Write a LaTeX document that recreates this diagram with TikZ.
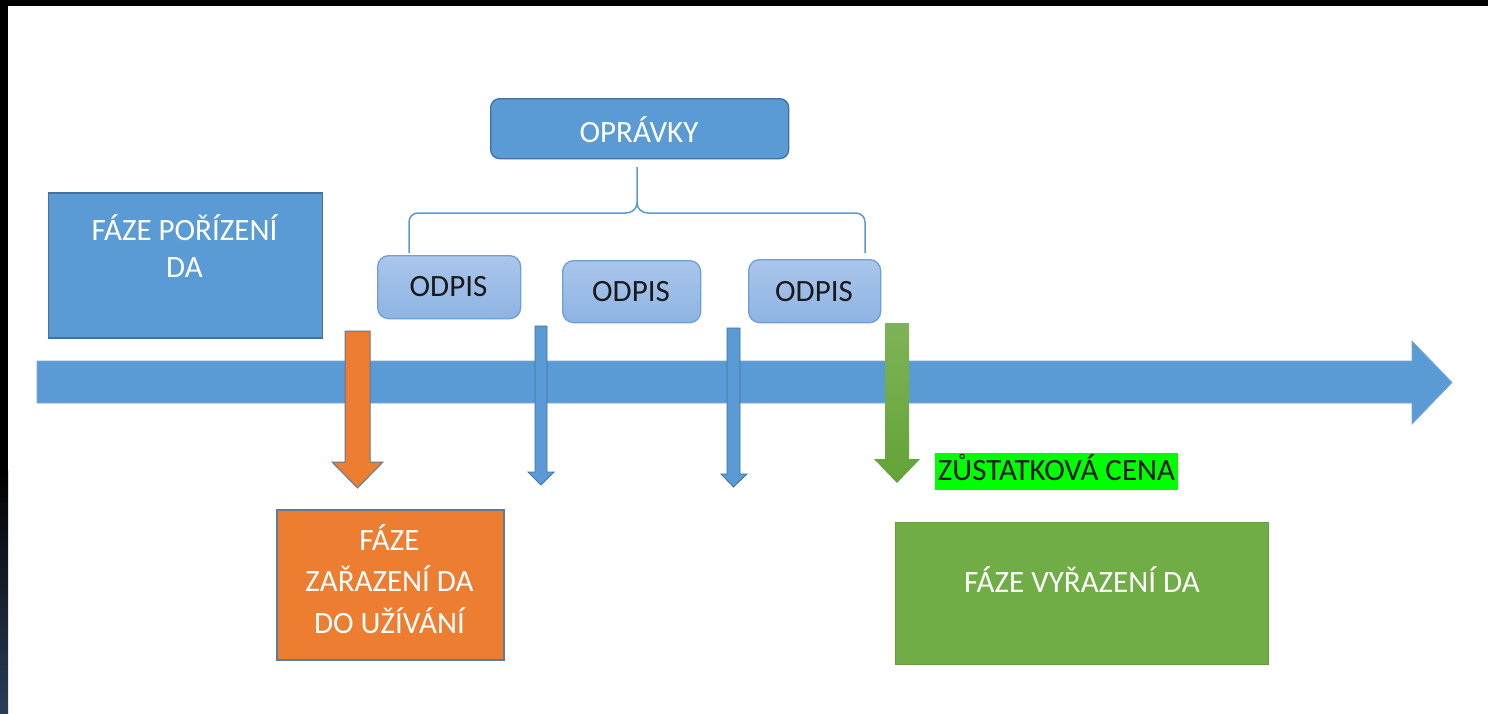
\documentclass[tikz,border=0pt]{standalone}
\usepackage{fontspec}
\setmainfont{Carlito}
\definecolor{mblue}{HTML}{5B9BD5}
\definecolor{dblue}{HTML}{41719C}
\definecolor{morange}{HTML}{ED7D31}
\definecolor{oedge}{HTML}{5D7B9A}
\definecolor{mgreen}{HTML}{70AD47}
\definecolor{lbtop}{HTML}{AAC6EB}
\definecolor{lbbot}{HTML}{8EB4E3}
\definecolor{lbedge}{HTML}{6E9FD6}
\definecolor{navy}{HTML}{2B3C57}
\definecolor{gtop}{HTML}{7EB457}
\definecolor{gbot}{HTML}{63A336}
\definecolor{lime}{HTML}{00FF00}
\definecolor{tledge}{HTML}{79A9DA}
\begin{document}
\begin{tikzpicture}[x=1pt,y=-1pt,
  boxbase/.style={rectangle, inner sep=0pt, anchor=north west},
  bluebox/.style={boxbase, fill=mblue, draw=dblue, line width=1.8pt},
  orangebox/.style={boxbase, fill=morange, draw=oedge, line width=1.8pt},
  greenbox/.style={boxbase, fill=mgreen, draw=mgreen!90!black, line width=0.6pt},
  oprbox/.style={boxbase, fill=mblue, draw=dblue, line width=1.3pt, rounded corners=9pt},
  odpisbox/.style={boxbase, top color=lbtop, bottom color=lbbot, draw=lbedge, line width=1.3pt, rounded corners=11pt},
  limebox/.style={boxbase, fill=lime},
  wtext/.style={text=white, font=\fontsize{31}{37}\selectfont, align=center, anchor=base, inner sep=0pt},
  ktext/.style={text=black!90, font=\fontsize{31}{37}\selectfont, align=center, anchor=base, inner sep=0pt},
  bracket/.style={draw=mblue, line width=1.5pt},
  bluearrow/.style={fill=mblue, draw=dblue, line width=0.8pt, line join=miter},
  orangearrow/.style={fill=morange, draw=oedge, line width=1pt, line join=miter},
  greenarrow/.style={top color=gtop, bottom color=gbot, draw=none},
  timeline/.style={fill=mblue, draw=tledge, line width=0.8pt, line join=miter}
]
\useasboundingbox (0,0) rectangle (1488,713);
\fill[white] (0,0) rectangle (1488,713);
% dark frame
\fill[black] (0,0) rectangle (1488,6);
\fill[black] (0,0) rectangle (8,713);
\shade[top color=black, bottom color=navy] (0,470) rectangle (8,713);

% boxes
\node[bluebox, minimum width=274pt, minimum height=145pt] (pori) at (47.5,192) {};
\node[wtext] (poritxt) at (184.5,277) {FÁZE POŘÍZENÍ\\DA};

\node[oprbox, minimum width=298pt, minimum height=60pt] (oprav) at (490,98) {};
\node[wtext] (opravtxt) at (639,142) {OPRÁVKY};

\node[odpisbox, minimum width=143pt, minimum height=63pt] (od1) at (377,255) {};
\node[odpisbox, minimum width=138pt, minimum height=62pt] (od2) at (562,260) {};
\node[odpisbox, minimum width=132pt, minimum height=63pt] (od3) at (748,259) {};
\node[ktext] (od1txt) at (448.5,296) {ODPIS};
\node[ktext] (od2txt) at (631,301) {ODPIS};
\node[ktext] (od3txt) at (814,301) {ODPIS};

% bracket from OPRAVKY to ODPIS
\coordinate (bl) at (409,253);
\coordinate (br) at (865,253);
\coordinate (bt) at (637,167);
\draw[bracket] (bl) -- (409,222) to[out=90,in=180] (418,213) -- (626,213) to[out=0,in=-90] (637,203) -- (bt);
\draw[bracket] (br) -- (865,222) to[out=90,in=0] (856,213) -- (648,213) to[out=180,in=-90] (637,203);

% timeline
\draw[timeline] (37,361) -- (1412,361) -- (1412,341) -- (1452,382.5) -- (1412,424) -- (1412,403) -- (37,403) -- cycle;

% down arrows
\draw[orangearrow] (345,331) -- (370,331) -- (370,462) -- (383,462) -- (357.5,488) -- (332,462) -- (345,462) -- cycle;
\draw[bluearrow] (535,326) -- (547,326) -- (547,472) -- (554,472) -- (541,485) -- (528,472) -- (535,472) -- cycle;
\draw[bluearrow] (727,328) -- (740,328) -- (740,474) -- (747,474) -- (733.5,487) -- (721,474) -- (727,474) -- cycle;
\shade[greenarrow] (885,323) -- (909,323) -- (909,459) -- (920,459) -- (897,483) -- (874,459) -- (885,459) -- cycle;

% residual value label
\node[limebox, minimum width=243pt, minimum height=37pt] (zc) at (935,453) {};
\node[ktext] (zctxt) at (1056.5,480) {ZŮSTATKOVÁ CENA};

% bottom boxes
\node[orangebox, minimum width=227pt, minimum height=150pt] (zar) at (276,509) {};
\node[wtext, font=\fontsize{31}{41.5}\selectfont] (zartxt) at (389.5,633) {FÁZE\\ZAŘAZENÍ DA\\DO UŽÍVÁNÍ};

\node[greenbox, minimum width=373pt, minimum height=142pt] (vyr) at (895,522) {};
\node[wtext] (vyrtxt) at (1082,592) {FÁZE VYŘAZENÍ DA};
\end{tikzpicture}
\end{document}
